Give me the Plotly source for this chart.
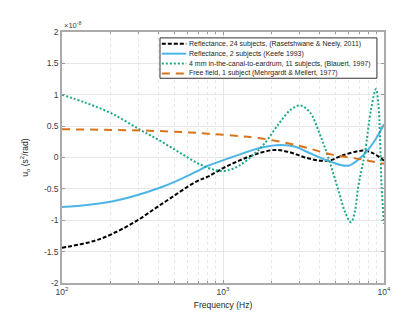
import plotly.graph_objects as go

# Frequencies (Hz) and values (x1e-8 s^2/rad)
f_black = [100, 158, 204, 282, 417, 676, 813, 1000, 1259, 1585, 2089, 2630, 3236, 3981, 4677, 5623, 7413, 8511, 10000]
v_black = [-1.44, -1.33, -1.22, -1.03, -0.74, -0.39, -0.30, -0.17, -0.05, 0.05, 0.12, 0.08, 0.00, -0.05, -0.04, 0.04, 0.11, 0.07, -0.05]

f_blue = [100, 204, 417, 676, 794, 1122, 1738, 2291, 2818, 3388, 4677, 6026, 7586, 8913, 10000]
v_blue = [-0.79, -0.70, -0.47, -0.23, -0.14, 0.00, 0.16, 0.20, 0.17, 0.08, -0.07, -0.13, 0.06, 0.30, 0.53]

f_green = [100, 141, 204, 302, 398, 537, 708, 891, 1047, 1259, 1585, 1820, 2239, 2630, 3020, 3467, 3981, 4467,
           5248, 5754, 6237, 6607, 6902, 7244, 7621, 8299, 8913, 9226, 9441, 9661, 10000]
v_green = [1.00, 0.87, 0.70, 0.45, 0.28, 0.08, -0.10, -0.20, -0.21, -0.13, 0.07, 0.23, 0.55, 0.76, 0.83, 0.72, 0.38, 0.03,
           -0.55, -0.88, -1.03, -0.85, -0.48, -0.20, 0.08, 0.76, 1.09, 0.85, 0.34, -0.45, -1.06]

f_orange = [100, 316, 617, 813, 1148, 1660, 2951, 4677, 7244, 10000]
v_orange = [0.45, 0.43, 0.40, 0.38, 0.35, 0.31, 0.19, 0.05, -0.03, -0.10]

names = [
    "Reflectance, 24 subjects, (Rasetshwane & Neely, 2011)",
    "Reflectance, 2 subjects (Keefe 1993)",
    "4 mm in-the-canal-to-eardrum, 11 subjects, (Blauert, 1997)",
    "Free field, 1 subject (Mehrgardt & Mellert, 1977)",
]
colors = ["#000000", "#4DB5E6", "#1AA88A", "#D9731A"]
dashes = ["4px,2px", "solid", "2px,2px", "8px,6px"]

y_ticks = [-2, -1.5, -1, -0.5, 0, 0.5, 1, 1.5, 2]
y_ticktext = ["-2", "-1.5", "-1", "-0.5", "0", "0.5", "1", "1.5", "2"]
x_ticks = [100, 1000, 10000]
x_ticktext = ["10<sup>2</sup>", "10<sup>3</sup>", "10<sup>4</sup>"]
x_minor = [m * d for d in (100, 1000) for m in range(2, 10)]

fig = go.Figure()
for fx, vy, nm, c, d in zip([f_black, f_blue, f_green, f_orange], [v_black, v_blue, v_green, v_orange],
                            names, colors, dashes):
    fig.add_trace(go.Scatter(x=fx, y=vy, name=nm, mode="lines", line_shape="spline",
                             line=dict(color=c, width=2, dash=d), showlegend=False))

font = "Liberation Sans, Arial, sans-serif"
fig.update_layout(
    width=415, height=313,
    margin=dict(l=54, r=39, t=24, b=34),
    paper_bgcolor="white", plot_bgcolor="white",
    font=dict(family=font, size=8.5, color="#404040"),
    showlegend=False,
    xaxis=dict(type="log", range=[2, 4], tickvals=x_ticks, ticktext=x_ticktext,
               ticks="inside", ticklen=3, tickcolor="#999999",
               showline=True, linecolor="#aaaaaa", linewidth=1.5, mirror="allticks",
               showgrid=True, gridcolor="#e6e6e6", gridwidth=1,
               minor=dict(tickvals=x_minor, ticks="inside", ticklen=2, tickcolor="#999999",
                          showgrid=True, gridcolor="#e8e8e8", griddash="dot", gridwidth=1),
               title=dict(text="Frequency (Hz)", font=dict(size=8.5, color="#262626"), standoff=6),
               zeroline=False, tickfont=dict(size=8.5)),
    yaxis=dict(range=[-2, 2], tickvals=y_ticks, ticktext=y_ticktext,
               ticks="inside", ticklen=3, tickcolor="#999999",
               showline=True, linecolor="#aaaaaa", linewidth=1.5, mirror="allticks",
               showgrid=True, gridcolor="#e6e6e6", gridwidth=1,
               title=dict(text="u<sub>o</sub> (s<sup>2</sup>/rad)", font=dict(size=8.5, color="#262626"), standoff=14),
               zeroline=False, tickfont=dict(size=8.5)),
)
fig.add_annotation(text="\u00d710<sup>-8</sup>", xref="paper", yref="paper", x=0.0, y=1.0,
                   xanchor="left", yanchor="bottom", showarrow=False,
                   font=dict(size=7.5, color="#404040"))

# Manual compact legend (MATLAB style)
fig.add_shape(type="rect", xref="paper", yref="paper", x0=0.3043, x1=0.978, y0=0.8157, y1=0.9765,
              fillcolor="white", line=dict(color="#333333", width=1), layer="above")
row_y = [0.953, 0.9137, 0.8745, 0.835]
for ry, nm, c, d in zip(row_y, names, colors, dashes):
    fig.add_shape(type="line", xref="paper", yref="paper", x0=0.31, x1=0.386, y0=ry, y1=ry,
                  line=dict(color=c, width=2, dash=d), layer="above")
    fig.add_annotation(text=nm, xref="paper", yref="paper", x=0.388, y=ry, xanchor="left", yanchor="middle",
                       showarrow=False, font=dict(size=7, color="#262626"))

fig.write_html("out.html")
